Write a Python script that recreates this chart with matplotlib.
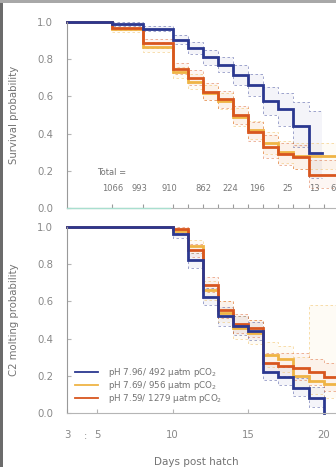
#!/usr/bin/env python3
"""Kaplan-Meier style survival / C2 molting curves for three pH treatments."""
import numpy as np
import matplotlib
matplotlib.use("Agg")
import matplotlib.pyplot as plt
from matplotlib.lines import Line2D
from matplotlib.patches import Rectangle

plt.rcParams["font.family"] = ["DejaVu Sans"]

LABELS = ["pH 7.96/ 492 \u00b5atm pCO$_2$",
          "pH 7.69/ 956 \u00b5atm pCO$_2$",
          "pH 7.59/ 1279 \u00b5atm pCO$_2$"]
COLORS = ["#2b3890", "#efb445", "#d8561f"]

# --- survival (top panel) ---
surv_days = [3, 6, 8, 10, 11, 12, 13, 14, 15, 16, 17, 18, 19]
surv_end = [19.9, 22, 22]
surv_blue = [1.0, 0.99, 0.965, 0.905, 0.86, 0.81, 0.77, 0.715, 0.66, 0.575, 0.53, 0.44, 0.295]
surv_blue_hi = [1.0, 1.0, 0.98, 0.93, 0.89, 0.85, 0.81, 0.77, 0.72, 0.65, 0.62, 0.57, 0.52]
surv_blue_lo = [1.0, 0.98, 0.95, 0.88, 0.83, 0.77, 0.73, 0.66, 0.60, 0.50, 0.44, 0.33, 0.16]
surv_gold = [1.0, 0.96, 0.865, 0.73, 0.68, 0.62, 0.575, 0.49, 0.42, 0.35, 0.30, 0.28, 0.28]
surv_gold_hi = [1.0, 0.975, 0.89, 0.76, 0.72, 0.66, 0.62, 0.54, 0.47, 0.41, 0.36, 0.35, 0.35]
surv_gold_lo = [1.0, 0.945, 0.84, 0.70, 0.64, 0.58, 0.53, 0.44, 0.37, 0.29, 0.24, 0.21, 0.21]
surv_orng = [1.0, 0.97, 0.885, 0.75, 0.70, 0.625, 0.585, 0.50, 0.41, 0.33, 0.29, 0.275, 0.18]
surv_orng_hi = [1.0, 0.985, 0.91, 0.78, 0.74, 0.67, 0.63, 0.55, 0.46, 0.39, 0.35, 0.34, 0.26]
surv_orng_lo = [1.0, 0.955, 0.86, 0.72, 0.66, 0.58, 0.54, 0.45, 0.36, 0.27, 0.23, 0.21, 0.11]

risk_days = [6, 7.8, 9.8, 12, 13.8, 15.6, 17.6, 19.4, 20.6]
risk_counts = ["1066", "993", "910", "862", "224", "196", "25", "13", "6"]
risk_ticks = [6, 8, 10, 11, 12, 13, 14, 15, 16, 17, 18, 19, 20, 21]

# --- C2 molting (bottom panel) ---
molt_days = [3, 10, 11, 12, 13, 14, 15, 16, 17, 18, 19, 20]
molt_end = [20, 22, 22]
molt_blue = [1.0, 0.96, 0.82, 0.625, 0.52, 0.47, 0.44, 0.222, 0.195, 0.133, 0.08, 0.0]
molt_blue_hi = [1.0, 0.98, 0.86, 0.67, 0.57, 0.52, 0.49, 0.27, 0.25, 0.19, 0.14, 0.0]
molt_blue_lo = [1.0, 0.94, 0.78, 0.58, 0.47, 0.42, 0.39, 0.18, 0.15, 0.09, 0.03, 0.0]
molt_gold = [1.0, 0.98, 0.90, 0.66, 0.54, 0.455, 0.43, 0.31, 0.29, 0.20, 0.17, 0.155]
molt_gold_hi = [1.0, 0.995, 0.93, 0.71, 0.60, 0.52, 0.50, 0.38, 0.36, 0.30, 0.58, 0.58]
molt_gold_lo = [1.0, 0.96, 0.86, 0.61, 0.49, 0.40, 0.37, 0.25, 0.22, 0.14, 0.10, 0.08]
molt_orng = [1.0, 0.99, 0.875, 0.69, 0.555, 0.48, 0.455, 0.27, 0.255, 0.24, 0.22, 0.195]
molt_orng_hi = [1.0, 1.0, 0.91, 0.73, 0.60, 0.53, 0.50, 0.32, 0.32, 0.32, 0.29, 0.27]
molt_orng_lo = [1.0, 0.97, 0.84, 0.65, 0.51, 0.43, 0.41, 0.22, 0.20, 0.18, 0.15, 0.12]

XTICKS = [3, 5, 10, 15, 20]
TICK_GRAY = "#888888"
SPINE_GRAY = "#b5b5b5"
TEXT_GRAY = "#737373"


def ext(days, vals, end):
    return list(days) + [end], list(vals) + [vals[-1]]


def draw_curves(ax, days, ends, series):
    for (mid, hi, lo), col, end in zip(series, COLORS, ends):
        x, y_hi = ext(days, hi, end)
        _, y_lo = ext(days, lo, end)
        ax.fill_between(x, y_lo, y_hi, step="post", color=col, alpha=0.05, lw=0)
        ax.step(x, y_hi, where="post", color=col, lw=0.6, ls=(0, (3, 3)), alpha=0.5)
        ax.step(x, y_lo, where="post", color=col, lw=0.6, ls=(0, (3, 3)), alpha=0.5)
    # main lines: gold, orange, then blue on top
    for idx in [1, 2, 0]:
        mid = series[idx][0]
        x, y = ext(days, mid, ends[idx])
        ax.step(x, y, where="post", color=COLORS[idx], lw=2.0, clip_on=False,
                solid_joinstyle="miter")


def style_axis(ax):
    ax.set_xlim(3, 22)
    ax.set_ylim(0, 1)
    for s in ["top", "right"]:
        ax.spines[s].set_visible(False)
    ax.spines["left"].set_color("#999999")
    ax.spines["bottom"].set_color(SPINE_GRAY)
    ax.spines["left"].set_linewidth(0.8)
    ax.spines["bottom"].set_linewidth(0.8)
    ax.set_yticks(np.arange(0, 1.01, 0.2))
    ax.set_yticklabels([f"{v:.1f}" for v in np.arange(0, 1.01, 0.2)])
    ax.tick_params(axis="y", direction="in", length=3, color=SPINE_GRAY,
                   labelcolor=TICK_GRAY, labelsize=7.3, pad=10)


fig = plt.figure(figsize=(3.36, 4.67), dpi=100)
ax_w = 19 * 15.1 / 336
ax_top = fig.add_axes([67 / 336, 1 - 208 / 467, ax_w, 186 / 467])
ax_bot = fig.add_axes([67 / 336, 1 - 413 / 467, ax_w, 186 / 467])

draw_curves(ax_top, surv_days, surv_end,
            [(surv_blue, surv_blue_hi, surv_blue_lo),
             (surv_gold, surv_gold_hi, surv_gold_lo),
             (surv_orng, surv_orng_hi, surv_orng_lo)])
draw_curves(ax_bot, molt_days, molt_end,
            [(molt_blue, molt_blue_hi, molt_blue_lo),
             (molt_gold, molt_gold_hi, molt_gold_lo),
             (molt_orng, molt_orng_hi, molt_orng_lo)])

style_axis(ax_top)
style_axis(ax_bot)

# top panel: at-risk row and its ticks
ax_top.set_xticks(risk_ticks)
ax_top.tick_params(axis="x", direction="in", length=3, color="#9a9a9a",
                   labelbottom=False)
ax_top.plot([3, 9.8], [0, 0], color="#a9dfcf", lw=1.0, clip_on=False, zorder=5)
ax_top.text(5.0, 0.19, "Total =", fontsize=6, color=TEXT_GRAY, va="center")
for d, n in zip(risk_days, risk_counts):
    ax_top.text(d, 0.105, n, fontsize=6, color="#777777", ha="center", va="center",
                clip_on=False)
ax_top.set_ylabel("Survival probability", fontsize=7.3, color=TEXT_GRAY)
ax_top.yaxis.set_label_coords(-0.167, 0.5)

# bottom panel
ax_bot.set_xticks(XTICKS)
ax_bot.set_xticklabels([str(t) for t in XTICKS])
ax_bot.tick_params(axis="x", direction="in", length=3, color=SPINE_GRAY,
                   labelcolor=TICK_GRAY, labelsize=7.3, pad=12)
ax_bot.text(4.2, -0.125, ":", fontsize=7, color="#888888", ha="center", va="center",
            clip_on=False)
ax_bot.set_ylabel("C2 molting probability", fontsize=7.3, color=TEXT_GRAY)
ax_bot.yaxis.set_label_coords(-0.167, 0.5)
ax_bot.set_xlabel("Days post hatch", fontsize=7.5, color=TEXT_GRAY)
ax_bot.xaxis.set_label_coords(0.45, -0.235)

handles = [Line2D([], [], color=c, lw=1.3) for c in COLORS]
ax_bot.legend(handles, LABELS, loc="upper left", bbox_to_anchor=(0.028, 0.255),
              frameon=False, fontsize=6.3, handlelength=2.6, handletextpad=1.2,
              labelspacing=0.05, borderpad=0, borderaxespad=0, labelcolor=TEXT_GRAY)

# page border remnants from the cropped source
fig.add_artist(Rectangle((0, 0), 3 / 336, 1, transform=fig.transFigure,
                         color="#6b6b6b", lw=0))
fig.add_artist(Rectangle((0, 1 - 3 / 467), 1, 3 / 467, transform=fig.transFigure,
                         color="#a8a8a8", lw=0))

fig.savefig("out.png", dpi=100)
